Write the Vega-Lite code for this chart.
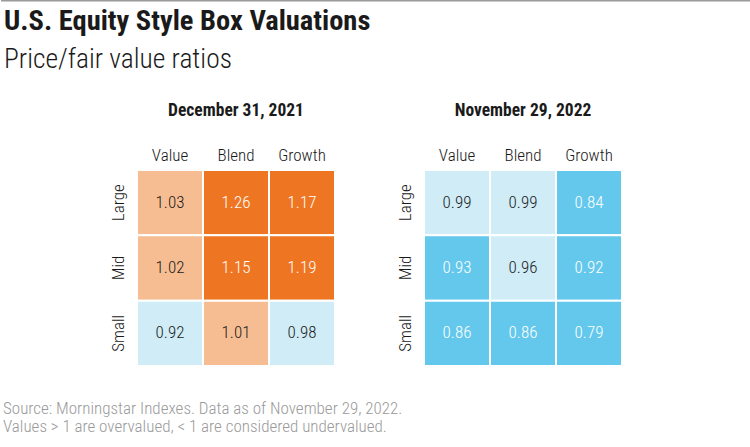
{
  "$schema": "https://vega.github.io/schema/vega-lite/v6.json",
  "background": "white",
  "padding": {"left": 0, "top": 0, "right": 0, "bottom": 5},
  "autosize": {"type": "pad"},
  "config": {
    "font": "Roboto Condensed, Liberation Sans Narrow, Roboto",
    "view": {"stroke": null},
    "axis": {"labelFont": "Roboto Condensed, Liberation Sans Narrow, Roboto"}
  },
  "datasets": {
    "topline": [{"start": 0, "end": 1}],
    "empty": [],
    "cells": [
      {"date": "December 31, 2021", "size": "Large", "style": "Value", "ratio": 1.03, "band": "over"},
      {"date": "December 31, 2021", "size": "Large", "style": "Blend", "ratio": 1.26, "band": "strong_over"},
      {"date": "December 31, 2021", "size": "Large", "style": "Growth", "ratio": 1.17, "band": "strong_over"},
      {"date": "December 31, 2021", "size": "Mid", "style": "Value", "ratio": 1.02, "band": "over"},
      {"date": "December 31, 2021", "size": "Mid", "style": "Blend", "ratio": 1.15, "band": "strong_over"},
      {"date": "December 31, 2021", "size": "Mid", "style": "Growth", "ratio": 1.19, "band": "strong_over"},
      {"date": "December 31, 2021", "size": "Small", "style": "Value", "ratio": 0.92, "band": "under"},
      {"date": "December 31, 2021", "size": "Small", "style": "Blend", "ratio": 1.01, "band": "over"},
      {"date": "December 31, 2021", "size": "Small", "style": "Growth", "ratio": 0.98, "band": "under"},
      {"date": "November 29, 2022", "size": "Large", "style": "Value", "ratio": 0.99, "band": "under"},
      {"date": "November 29, 2022", "size": "Large", "style": "Blend", "ratio": 0.99, "band": "under"},
      {"date": "November 29, 2022", "size": "Large", "style": "Growth", "ratio": 0.84, "band": "strong_under"},
      {"date": "November 29, 2022", "size": "Mid", "style": "Value", "ratio": 0.93, "band": "strong_under"},
      {"date": "November 29, 2022", "size": "Mid", "style": "Blend", "ratio": 0.96, "band": "under"},
      {"date": "November 29, 2022", "size": "Mid", "style": "Growth", "ratio": 0.92, "band": "strong_under"},
      {"date": "November 29, 2022", "size": "Small", "style": "Value", "ratio": 0.86, "band": "strong_under"},
      {"date": "November 29, 2022", "size": "Small", "style": "Blend", "ratio": 0.86, "band": "strong_under"},
      {"date": "November 29, 2022", "size": "Small", "style": "Growth", "ratio": 0.79, "band": "strong_under"}
    ]
  },
  "spacing": 4,
  "vconcat": [
    {
      "width": 750,
      "height": 1,
      "data": {"name": "topline"},
      "mark": {"type": "rule", "color": "#9a9a9a", "strokeWidth": 1.5},
      "encoding": {
        "x": {"field": "start", "type": "quantitative", "scale": {"domain": [0, 1], "nice": false, "zero": false}, "axis": null},
        "x2": {"field": "end"},
        "y": {"value": 0.75}
      }
    },
    {
      "title": {
        "text": "U.S. Equity Style Box Valuations",
        "subtitle": "Price/fair value ratios",
        "anchor": "start",
        "fontSize": 28.5,
        "fontWeight": "bold",
        "color": "#1a1a1a",
        "subtitleFontSize": 27.5,
        "subtitleFontWeight": 300,
        "subtitleColor": "#1a1a1a",
        "subtitlePadding": 11,
        "offset": 28,
        "dx": 3
      },
      "vconcat": [
        {
          "title": {
            "text": ["Source: Morningstar Indexes. Data as of November 29, 2022.", "Values > 1 are overvalued, < 1 are considered undervalued."],
            "orient": "bottom",
            "anchor": "start",
            "fontSize": 17,
            "fontWeight": 300,
            "color": "#9a9a9a",
            "lineHeight": 18,
            "offset": 34,
            "dx": 2
          },
          "spacing": 60,
          "hconcat": [
            {
              "width": 48,
              "height": 1,
              "data": {"name": "empty"},
              "mark": "rect",
              "encoding": {}
            },
            {
              "title": {"text": "December 31, 2021", "fontSize": 17.5, "fontWeight": "bold", "color": "#1a1a1a", "offset": 27},
              "width": 198,
              "height": 196,
              "data": {"name": "cells"},
              "transform": [{"filter": "datum.date === 'December 31, 2021'"}],
              "encoding": {
                "x": {"field": "style", "type": "ordinal", "sort": ["Value", "Blend", "Growth"], "scale": {"paddingInner": 0, "paddingOuter": 0},
                  "axis": {"orient": "top", "title": null, "labelAngle": 0, "domain": false, "ticks": false, "labelFontSize": 17, "labelPadding": 6, "labelColor": "#1a1a1a", "labelFontWeight": 300}},
                "y": {"field": "size", "type": "ordinal", "sort": ["Large", "Mid", "Small"], "scale": {"paddingInner": 0, "paddingOuter": 0},
                  "axis": {"title": null, "labelAngle": -90, "domain": false, "ticks": false, "labelFontSize": 17, "labelPadding": 10, "labelColor": "#1a1a1a", "labelFontWeight": 300}}
              },
              "layer": [
                {"mark": {"type": "rect", "stroke": "white", "strokeWidth": 2},
                 "encoding": {"color": {"field": "band", "type": "nominal", "legend": null,
                   "scale": {"domain": ["strong_over", "over", "under", "strong_under"], "range": ["#EE7623", "#F6BD92", "#CFECF7", "#63C8EC"]}}}},
                {"mark": {"type": "text", "fontSize": 17, "fontWeight": 300},
                 "encoding": {"text": {"field": "ratio", "type": "quantitative", "format": ".2f"},
                   "color": {"condition": {"test": "datum.band === 'strong_over' || datum.band === 'strong_under'", "value": "white"}, "value": "#1a1a1a"}}}
              ]
            },
            {
              "title": {"text": "November 29, 2022", "fontSize": 17.5, "fontWeight": "bold", "color": "#1a1a1a", "offset": 27},
              "width": 198,
              "height": 196,
              "data": {"name": "cells"},
              "transform": [{"filter": "datum.date === 'November 29, 2022'"}],
              "encoding": {
                "x": {"field": "style", "type": "ordinal", "sort": ["Value", "Blend", "Growth"], "scale": {"paddingInner": 0, "paddingOuter": 0},
                  "axis": {"orient": "top", "title": null, "labelAngle": 0, "domain": false, "ticks": false, "labelFontSize": 17, "labelPadding": 6, "labelColor": "#1a1a1a", "labelFontWeight": 300}},
                "y": {"field": "size", "type": "ordinal", "sort": ["Large", "Mid", "Small"], "scale": {"paddingInner": 0, "paddingOuter": 0},
                  "axis": {"title": null, "labelAngle": -90, "domain": false, "ticks": false, "labelFontSize": 17, "labelPadding": 10, "labelColor": "#1a1a1a", "labelFontWeight": 300}}
              },
              "layer": [
                {"mark": {"type": "rect", "stroke": "white", "strokeWidth": 2},
                 "encoding": {"color": {"field": "band", "type": "nominal", "legend": null,
                   "scale": {"domain": ["strong_over", "over", "under", "strong_under"], "range": ["#EE7623", "#F6BD92", "#CFECF7", "#63C8EC"]}}}},
                {"mark": {"type": "text", "fontSize": 17, "fontWeight": 300},
                 "encoding": {"text": {"field": "ratio", "type": "quantitative", "format": ".2f"},
                   "color": {"condition": {"test": "datum.band === 'strong_over' || datum.band === 'strong_under'", "value": "white"}, "value": "#1a1a1a"}}}
              ]
            }
          ]
        }
      ]
    }
  ]
}
